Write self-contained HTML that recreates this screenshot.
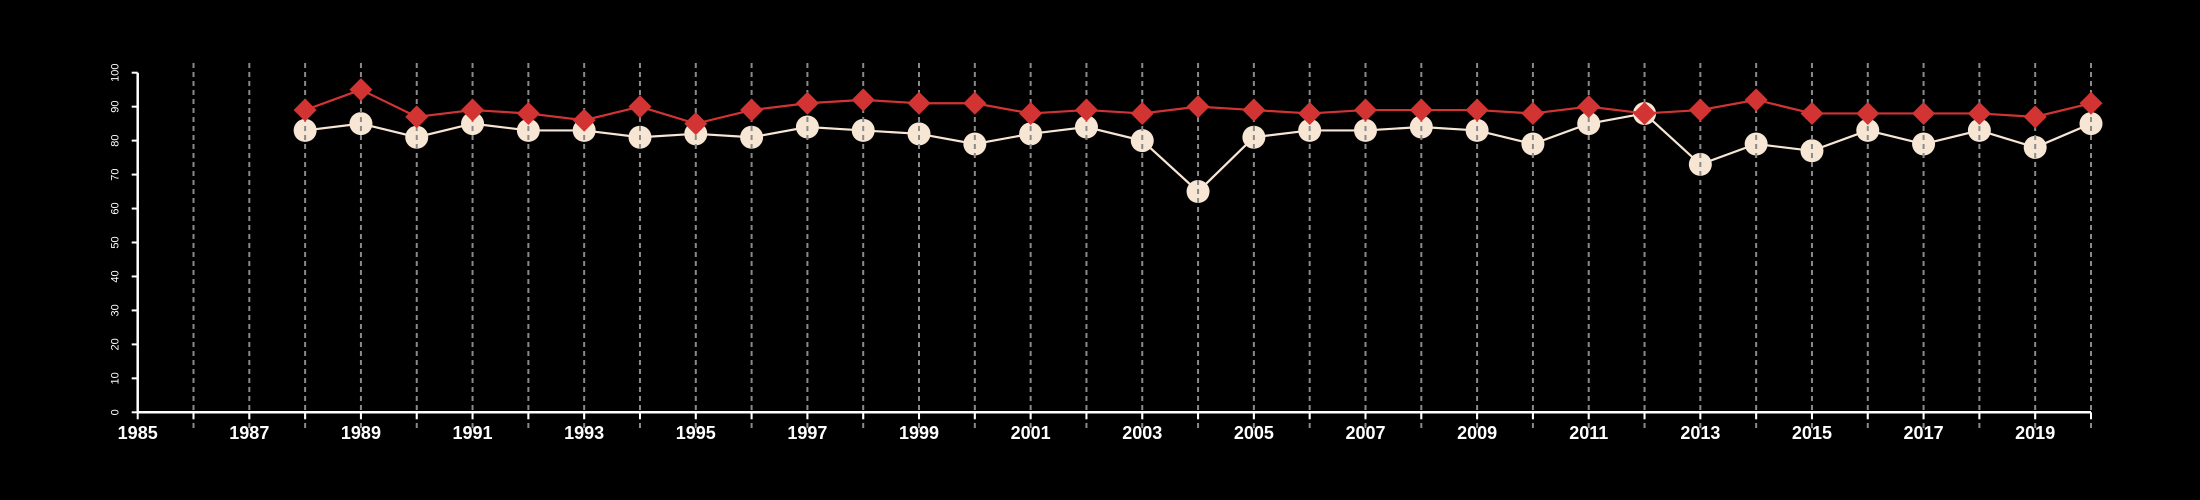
<!DOCTYPE html>
<html><head><meta charset="utf-8"><style>
html,body{margin:0;padding:0;background:#000;}
svg{display:block;font-family:"Liberation Sans",sans-serif;}
</style></head><body>
<svg id="chart" width="2200" height="500" viewBox="0 0 2200 500">
<rect width="2200" height="500" fill="#000"/>
<g id="white-layer"></g><g id="grid-layer"></g><g id="red-layer"></g><g id="axes-layer"></g>
</svg>
<script>
const years = [1988,1989,1990,1991,1992,1993,1994,1995,1996,1997,1998,1999,2000,2001,2002,2003,2004,2005,2006,2007,2008,2009,2010,2011,2012,2013,2014,2015,2016,2017,2018,2019,2020];
const whiteSeries = [83,85,81,85,83,83,81,82,81,84,83,82,79,82,84,80,65,81,83,83,84,83,79,85,88,73,79,77,83,79,83,78,85];
const redSeries = [89,95,87,89,88,86,90,85,89,91,92,91,91,88,89,88,90,89,88,89,89,89,88,90,88,89,92,88,88,88,88,87,91];
const yTicks = [0,10,20,30,40,50,60,70,80,90,100];
const xTickYears = [1985,1986,1987,1988,1989,1990,1991,1992,1993,1994,1995,1996,1997,1998,1999,2000,2001,2002,2003,2004,2005,2006,2007,2008,2009,2010,2011,2012,2013,2014,2015,2016,2017,2018,2019,2020];
const xLabelYears = [1985,1987,1989,1991,1993,1995,1997,1999,2001,2003,2005,2007,2009,2011,2013,2015,2017,2019];

const NS="http://www.w3.org/2000/svg";
const x0=137.7,x1=2091,y0=412.3,y1=72.7;
const xs=y=>x0+(y-1985)*(x1-x0)/35;
const ys=v=>y0-v*(y0-y1)/100;
function mk(tag,attrs,parent){const e=document.createElementNS(NS,tag);for(const k in attrs)e.setAttribute(k,attrs[k]);parent.appendChild(e);return e;}
const W=document.getElementById('white-layer'),G=document.getElementById('grid-layer'),R=document.getElementById('red-layer'),A=document.getElementById('axes-layer');

let wl=mk('polyline',{points:years.map((y,i)=>xs(y)+','+ys(whiteSeries[i])).join(' '),fill:'none',stroke:'#f7e6d4','stroke-width':2.2},W);


years.forEach((y,i)=>{
  const c=mk('circle',{cx:xs(y),cy:ys(whiteSeries[i]),r:11.5,fill:'#f7e6d4'},W);
  
  
});
xTickYears.slice(1).forEach(y=>{
  const l=mk('line',{x1:xs(y),x2:xs(y),y1:63,y2:428,stroke:'#8a8a8a','stroke-width':2,'stroke-dasharray':'5 4'},G);
  
  
});
let rl=mk('polyline',{points:years.map((y,i)=>xs(y)+','+ys(redSeries[i])).join(' '),fill:'none',stroke:'#d23434','stroke-width':2.2},R);


years.forEach((y,i)=>{
  const cx=xs(y),cy=ys(redSeries[i]),d=11.5;
  const p=mk('polygon',{points:`${cx},${cy-d} ${cx+d},${cy} ${cx},${cy+d} ${cx-d},${cy}`,fill:'#d23434'},R);
  
  
});
let ya=mk('line',{x1:x0,x2:x0,y1:y1,y2:y0,stroke:'#fff','stroke-width':2.5},A);


yTicks.forEach(v=>{
  const t=mk('line',{x1:x0-6,x2:x0,y1:ys(v),y2:ys(v),stroke:'#fff','stroke-width':2},A);
  
  
  const tx=mk('text',{x:0,y:0,transform:`translate(${x0-19},${ys(v)}) rotate(-90)`,'text-anchor':'middle',fill:'#fff','font-size':11},A);
  tx.textContent=v;
  
  
});
let xa=mk('line',{x1:x0,x2:x1,y1:y0,y2:y0,stroke:'#fff','stroke-width':2.5},A);


xTickYears.forEach(y=>{
  const t=mk('line',{x1:xs(y),x2:xs(y),y1:y0,y2:y0+7,stroke:'#fff','stroke-width':2},A);
  
  
});
xLabelYears.forEach(y=>{
  const tx=mk('text',{x:xs(y),y:439,'text-anchor':'middle',fill:'#fff','font-size':18,'font-weight':'bold'},A);
  tx.textContent=y;
  
  
});
</script>
</body></html>
